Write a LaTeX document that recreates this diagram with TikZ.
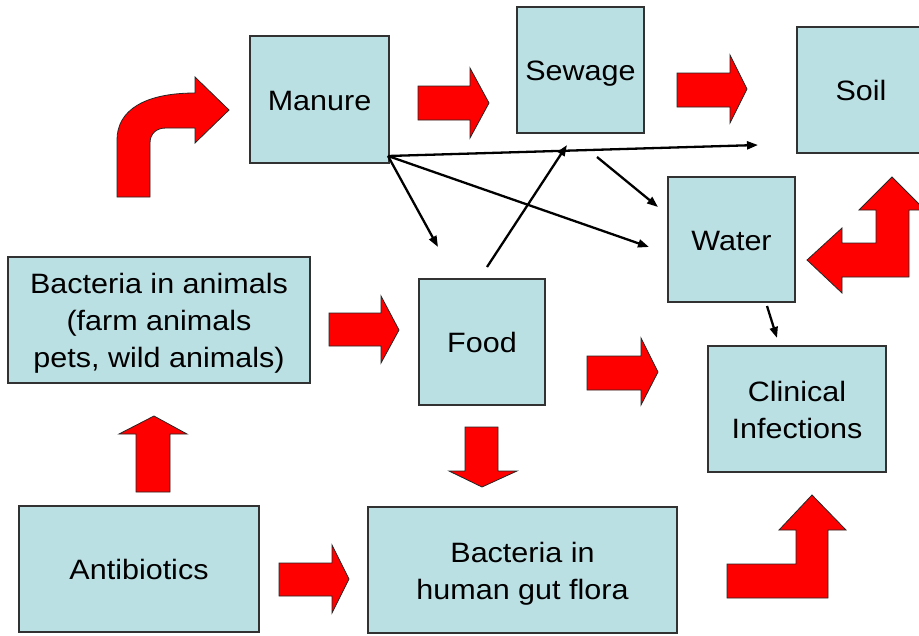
\documentclass[tikz,border=0pt]{standalone}
\usepackage{fontspec}
\setmainfont{Liberation Sans}[FakeStretch=1.09]
\usetikzlibrary{arrows.meta}
\definecolor{boxfill}{RGB}{187,224,228}
\definecolor{boxline}{RGB}{50,50,50}
\newcommand{\bxt}[1]{\raisebox{-3.5pt}[\height][\depth]{\begin{tabular}{@{}c@{}}#1\end{tabular}}}
\begin{document}
\begin{tikzpicture}[x=1pt,y=-1pt,
  box/.style={draw=boxline, line width=1.2pt, fill=boxfill, inner sep=0pt,
              font=\fontsize{28}{37}\selectfont},
  conn/.style={line width=2.3pt, -{Triangle[length=11pt,width=8pt]}},
  blockarrow/.style={fill=red, draw=black!85, line width=0.8pt, line join=miter}]
\useasboundingbox (0,0) rectangle (919,635);
\clip (0,0) rectangle (919,635);

% boxes
\node[box, minimum width=139pt, minimum height=127pt] (manure) at (319.5,99.5) {\bxt{Manure}};
\node[box, minimum width=127pt, minimum height=126pt] (sewage) at (580.5,70) {\bxt{Sewage}};
\node[box, minimum width=128pt, minimum height=126pt] (soil) at (861,90) {\bxt{Soil}};
\node[box, minimum width=127pt, minimum height=125pt] (water) at (731.5,239.5) {\bxt{Water}};
\node[box, minimum width=302pt, minimum height=126pt] (animals) at (159,320) {\bxt{Bacteria in animals\\(farm animals\\pets, wild animals)}};
\node[box, minimum width=126pt, minimum height=126pt] (food) at (482,342) {\bxt{Food}};
\node[box, minimum width=178pt, minimum height=126pt] (clinical) at (797,409) {\bxt{Clinical\\Infections}};
\node[box, minimum width=240pt, minimum height=126pt] (antib) at (139,569) {\bxt{Antibiotics}};
\node[box, minimum width=309pt, minimum height=126pt] (gut) at (522.5,570) {\bxt{Bacteria in\\human gut flora}};

% connector end points
\coordinate (mo) at (388,156);
\coordinate (soilin) at (758,145);
\coordinate (foodin) at (438,247);
\coordinate (waterin) at (649,247);
\coordinate (foodout) at (487,267);
\coordinate (sewin) at (567,145);
\coordinate (sewout) at (597,157);
\coordinate (waterin2) at (658,207);
\coordinate (waterout) at (767,306);
\coordinate (clinin) at (777,338);

\draw[conn] (mo) -- (soilin);
\draw[conn] (mo) -- (foodin);
\draw[conn] (mo) -- (waterin);
\draw[conn] (foodout) -- (sewin);
\draw[conn] (sewout) -- (waterin2);
\draw[conn] (waterout) -- (clinin);

% red block arrows
% curved arrow up-right to Manure
\draw[blockarrow] (117,197) -- (117,140) .. controls (117,110) and (145,93) .. (195,93)
  -- (195,77) -- (229,110) -- (195,143) -- (195,128) -- (166,128)
  .. controls (156,128) and (150,134) .. (150,143) -- (150,197) -- cycle;
% Manure -> Sewage
\draw[blockarrow] (418,86) -- (470,86) -- (470,68) -- (489,103) -- (470,138) -- (470,120) -- (418,120) -- cycle;
% Sewage -> Soil
\draw[blockarrow] (677,73) -- (730,73) -- (730,55) -- (747,89) -- (730,123) -- (730,107) -- (677,107) -- cycle;
% Animals -> Food
\draw[blockarrow] (329,313) -- (381,313) -- (381,296) -- (399,330) -- (381,363) -- (381,346) -- (329,346) -- cycle;
% Food -> Clinical
\draw[blockarrow] (587,356) -- (641,356) -- (641,338) -- (658,372) -- (641,405) -- (641,390) -- (587,390) -- cycle;
% Food -> gut (down)
\draw[blockarrow] (465,427) -- (498,427) -- (498,471) -- (517,471) -- (482,487) -- (449,471) -- (465,471) -- cycle;
% Antibiotics -> Animals (up)
\draw[blockarrow] (136,492) -- (136,434) -- (119,434) -- (154,416) -- (187,434) -- (170,434) -- (170,492) -- cycle;
% Antibiotics -> gut
\draw[blockarrow] (279,563) -- (332,563) -- (332,545) -- (349,579) -- (332,613) -- (332,596) -- (279,596) -- cycle;
% gut -> Clinical (bent up)
\draw[blockarrow] (727,564) -- (796,564) -- (796,530) -- (779,530) -- (812,495) -- (846,530) -- (828,530) -- (828,598) -- (727,598) -- cycle;
% Soil <-> Water (left-up)
\draw[blockarrow] (807,260) -- (842,228) -- (842,243) -- (876,243) -- (876,210) -- (859,210) -- (892,177) -- (925,210) -- (909,210) -- (909,277) -- (842,277) -- (842,293) -- cycle;
\end{tikzpicture}
\end{document}
